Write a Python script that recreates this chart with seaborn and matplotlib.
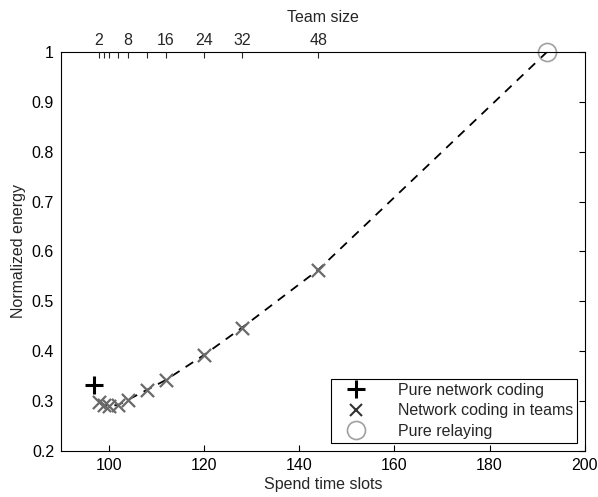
import numpy as np
import pandas as pd
import matplotlib
matplotlib.use("Agg")
import matplotlib.pyplot as plt
import seaborn as sns
from matplotlib.ticker import FuncFormatter

sns.set_theme(style="white")
plt.rcParams["font.family"] = ["Liberation Sans", "DejaVu Sans"]

# data
team_sizes  = [2, 3, 4, 6, 8, 12, 16, 24, 32, 48]
team_slots  = [98, 99, 100, 102, 104, 108, 112, 120, 128, 144]
team_energy = [0.298, 0.292, 0.290, 0.292, 0.302, 0.322, 0.342, 0.392, 0.447, 0.563]
coding_slots, coding_energy = [97], [0.333]
relay_slots, relay_energy = [192], [1.0]
top_labels = [2, 8, 16, 24, 32, 48]

FS = 11.5

teams = pd.DataFrame({"slots": team_slots, "energy": team_energy})
curve = pd.DataFrame({"slots": team_slots + relay_slots,
                      "energy": team_energy + relay_energy})

fig = plt.figure(figsize=(5.98, 4.97), dpi=100)
ax = fig.add_axes([0.102, 0.093, 0.876, 0.802])

sns.lineplot(data=curve, x="slots", y="energy", ax=ax, color="black",
             lw=1.3, linestyle=(0, (5, 4)), legend=False)
h_nc, = ax.plot(coding_slots, coding_energy, "+", color="black", ms=13, mew=2.2,
                ls="none", label="Pure network coding")
sns.scatterplot(data=teams, x="slots", y="energy", ax=ax, marker="x",
                color="#6a6a6a", s=90, linewidth=1.6, zorder=3)
h_tm, = ax.plot([], [], "x", color="#333333", ms=8, mew=1.5, ls="none",
                label="Network coding in teams")
h_rl, = ax.plot(relay_slots, relay_energy, "o", mfc="none", mec="#a0a0a0", ms=13,
                mew=1.2, ls="none", label="Pure relaying", clip_on=False)

ax.set_xlim(90, 200)
ax.set_ylim(0.2, 1.0)
ax.set_xticks(np.arange(100, 201, 20))
ax.set_yticks(np.round(np.arange(0.2, 1.01, 0.1), 1))
ax.yaxis.set_major_formatter(FuncFormatter(lambda v, _: f"{v:g}"))
ax.tick_params(direction="in", length=4, labelsize=FS, right=True,
               colors="black", width=0.8, pad=5)
ax.set_xlabel("Spend time slots", fontsize=FS, labelpad=3)
ax.set_ylabel("Normalized energy", fontsize=FS, labelpad=4)
for s in ax.spines.values():
    s.set_color("black")
    s.set_linewidth(0.8)

ax2 = ax.twiny()
ax2.set_xlim(ax.get_xlim())
ax2.set_xticks(team_slots)
ax2.set_xticklabels([str(k) if k in top_labels else "" for k in team_sizes])
ax2.tick_params(direction="in", length=4, labelsize=FS, width=0.8, pad=3)
ax2.set_xlabel("Team size", fontsize=FS, labelpad=8)
for s in ax2.spines.values():
    s.set_visible(False)

leg = ax.legend(handles=[h_nc, h_tm, h_rl], loc="lower right", fontsize=FS,
                frameon=True, fancybox=False, edgecolor="black", framealpha=1,
                borderpad=0.25, labelspacing=0.35, handletextpad=1.3,
                handlelength=2.6, borderaxespad=0.5)
leg.get_frame().set_linewidth(0.8)

fig.savefig("out.png", dpi=100)
